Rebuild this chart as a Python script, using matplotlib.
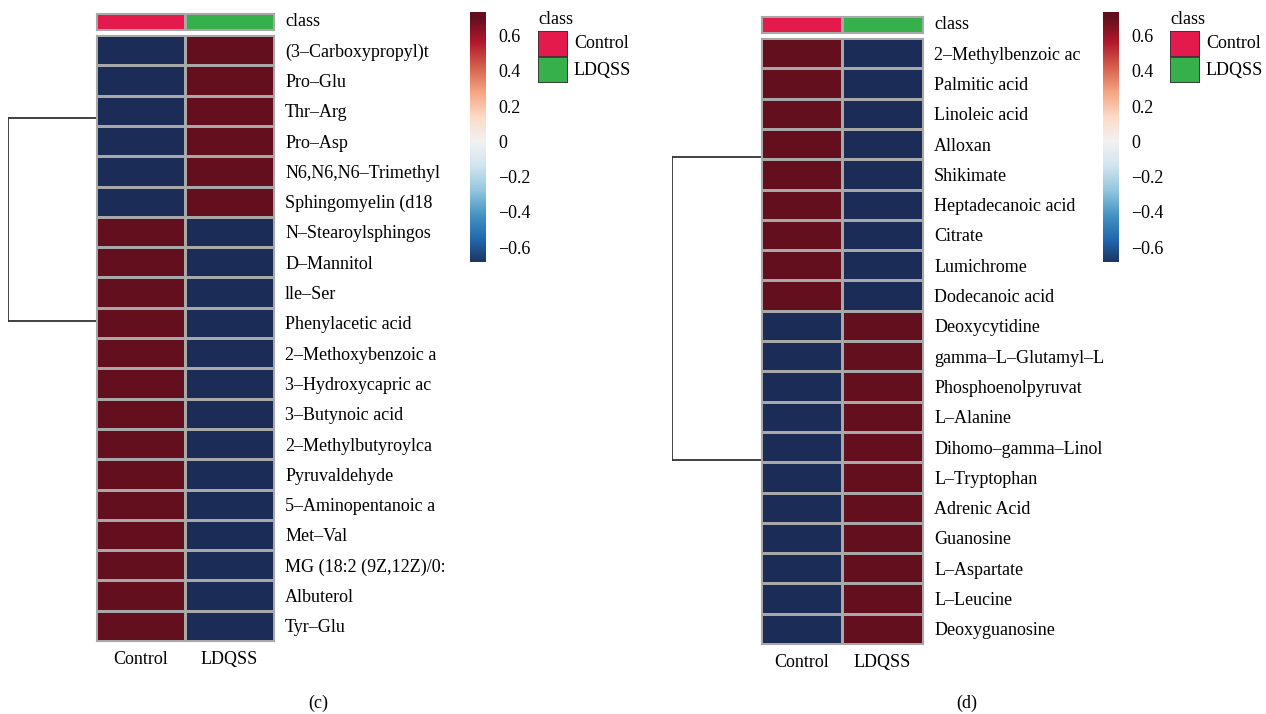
import numpy as np
import matplotlib
matplotlib.use("Agg")
import matplotlib.pyplot as plt
from matplotlib.colors import LinearSegmentedColormap, ListedColormap
from matplotlib.patches import Rectangle

plt.rcParams['font.family'] = ['Liberation Serif', 'DejaVu Serif']

# Daten
groups = ['Control', 'LDQSS']
group_colors = ['#e31a4b', '#35b04a']

rows_c = ['(3–Carboxypropyl)t', 'Pro–Glu', 'Thr–Arg', 'Pro–Asp', 'N6,N6,N6–Trimethyl',
          'Sphingomyelin (d18', 'N–Stearoylsphingos', 'D–Mannitol', 'lle–Ser',
          'Phenylacetic acid', '2–Methoxybenzoic a', '3–Hydroxycapric ac',
          '3–Butynoic acid', '2–Methylbutyroylca', 'Pyruvaldehyde',
          '5–Aminopentanoic a', 'Met–Val', 'MG (18:2 (9Z,12Z)/0:', 'Albuterol', 'Tyr–Glu']
control_c = [-0.707] * 6 + [0.707] * 14
ldqss_c = [0.707] * 6 + [-0.707] * 14

rows_d = ['2–Methylbenzoic ac', 'Palmitic acid', 'Linoleic acid', 'Alloxan', 'Shikimate',
          'Heptadecanoic acid', 'Citrate', 'Lumichrome', 'Dodecanoic acid',
          'Deoxycytidine', 'gamma–L–Glutamyl–L', 'Phosphoenolpyruvat', 'L–Alanine',
          'Dihomo–gamma–Linol', 'L–Tryptophan', 'Adrenic Acid', 'Guanosine',
          'L–Aspartate', 'L–Leucine', 'Deoxyguanosine']
control_d = [0.707] * 9 + [-0.707] * 11
ldqss_d = [-0.707] * 9 + [0.707] * 11

# Dendrogramm: Position der beiden Äste (in Zeilen) und Wurzelhöhe
branch_c = [2.74, 9.44]
branch_d = [3.92, 13.94]
root_height = 1.0

cb_ticks = [-0.6, -0.4, -0.2, 0, 0.2, 0.4, 0.6]
cb_labels = ['−0.6', '−0.4', '−0.2', '0', '0.2', '0.4', '0.6']
vlim = 0.7071
cb_range = (-0.685, 0.735)

cmap = LinearSegmentedColormap.from_list('rdbu', [
    '#1b2d57', '#2166ac', '#4393c3', '#92c5de', '#d1e5f0', '#f2f2f2',
    '#fddbc7', '#f4a582', '#d6604d', '#b2182b', '#640f1e'])

W, H = 1266, 714
fig = plt.figure(figsize=(W / 100, H / 100), dpi=100)


def box(x0, y0, x1, y1):
    return [x0 / W, 1 - y1 / H, (x1 - x0) / W, (y1 - y0) / H]


FS = 13
GRID = '#a8a8a8'


def panel(px, rows, ctrl, ldq, branch, dx, cbx, legx, letter, letter_x, y_off):
    hx0, hx1 = px
    hy0, hy1 = 35 + y_off, 641 + y_off
    data = np.column_stack([ctrl, ldq])
    n = len(rows)

    ax = fig.add_axes(box(hx0, hy0, hx1, hy1))
    ax.pcolormesh(data, cmap=cmap, vmin=-vlim, vmax=vlim, edgecolors=GRID, linewidth=0.8)
    ax.set_ylim(n, 0)
    ax.set_xlim(0, 2)
    for s in ax.spines.values():
        s.set_edgecolor(GRID)
        s.set_linewidth(0.8)
    ax.yaxis.tick_right()
    ax.set_yticks(np.arange(n) + 0.5)
    ax.set_yticklabels(rows, fontsize=FS)
    ax.set_xticks([0.5, 1.5])
    ax.set_xticklabels(groups, fontsize=FS)
    ax.tick_params(length=0, pad=8)
    ax.tick_params(axis='x', pad=7)

    # Klassenleiste
    axc = fig.add_axes(box(hx0, 13 + y_off, hx1, 30 + y_off))
    axc.pcolormesh(np.array([[0, 1]]), cmap=ListedColormap(group_colors),
                   edgecolors=GRID, linewidth=0.8)
    axc.set_xticks([])
    axc.set_yticks([])
    for s in axc.spines.values():
        s.set_edgecolor(GRID)
        s.set_linewidth(0.8)
    axc.text(1.0 + 11 / (hx1 - hx0), 0.5, 'class', transform=axc.transAxes,
             fontsize=FS, va='center', ha='left')

    # Dendrogramm
    axd = fig.add_axes(box(dx, hy0, hx0, hy1))
    axd.plot([0, 0], branch, color='#333333', lw=1.3)
    for b in branch:
        axd.plot([0, root_height], [b, b], color='#333333', lw=1.3)
    axd.set_ylim(n, 0)
    axd.set_xlim(-0.005, root_height)
    axd.axis('off')

    # Farbskala
    cax = fig.add_axes(box(cbx, 12, cbx + 16, 262))
    grad = np.linspace(cb_range[0], cb_range[1], 256).reshape(-1, 1)
    cax.imshow(grad, cmap=cmap, vmin=-vlim, vmax=vlim, aspect='auto', origin='lower',
               extent=[0, 1, cb_range[0], cb_range[1]])
    cax.set_xticks([])
    cax.yaxis.tick_right()
    cax.set_yticks(cb_ticks)
    cax.set_yticklabels(cb_labels, fontsize=FS)
    cax.tick_params(length=0, pad=9)
    for s in cax.spines.values():
        s.set_visible(False)

    # Legende
    fig.text(legx / W, 1 - 20 / H, 'class', fontsize=FS, va='center', ha='left')
    for i, (g, c) in enumerate(zip(groups, group_colors)):
        y0 = 31 + i * 26
        axl = fig.add_axes(box(legx, y0, legx + 30, y0 + 26))
        axl.add_patch(Rectangle((0, 0), 1, 1, facecolor=c, edgecolor='#333333', lw=1.2))
        axl.set_xlim(0, 1)
        axl.set_ylim(0, 1)
        axl.axis('off')
        fig.text((legx + 36) / W, 1 - (y0 + 13) / H, g, fontsize=FS, va='center', ha='left')

    fig.text(letter_x / W, 1 - 703 / H, letter, fontsize=FS, ha='center', va='center')


panel((96, 274), rows_c, control_c, ldqss_c, branch_c, 8, 470, 538, '(c)', 318, 0)
panel((761, 923), rows_d, control_d, ldqss_d, branch_d, 672, 1103, 1170, '(d)', 967, 3)

fig.savefig('out.png', dpi=100)
